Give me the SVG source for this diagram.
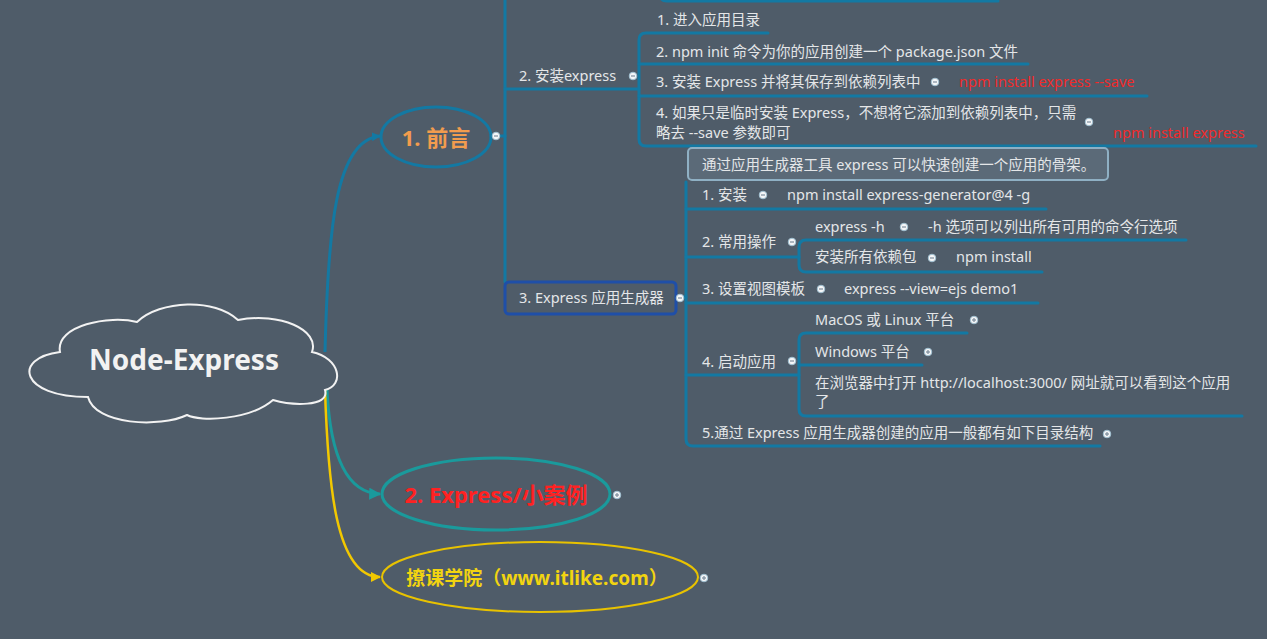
<svg xmlns="http://www.w3.org/2000/svg" width="1267" height="639" viewBox="0 0 1267 639">
<defs>
<style>
.t{font-family:"Noto Sans","Noto Sans CJK SC",sans-serif;font-size:14.5px;fill:#e4e6e8}
.r{font-family:"Noto Sans","Noto Sans CJK SC",sans-serif;font-size:14.5px;fill:#f22a2a}
.ln{fill:none;stroke:#1379a3;stroke-width:3;stroke-linecap:round}
.dot{fill:#f4f6f8;stroke:#9fbfd0;stroke-width:1}
.dm{stroke:#7d8e9c;stroke-width:1.2}
</style>
<marker id="aT" viewBox="0 0 10 10" refX="9" refY="5" markerWidth="4" markerHeight="4" orient="auto"><path d="M0,0 L10,5 L0,10 Z" fill="#1a9a9c"/></marker>
<marker id="aY" viewBox="0 0 10 10" refX="9" refY="5" markerWidth="4" markerHeight="4" orient="auto"><path d="M0,0 L10,5 L0,10 Z" fill="#f2c800"/></marker>
<marker id="aB" viewBox="0 0 10 10" refX="9" refY="5" markerWidth="3" markerHeight="3" orient="auto"><path d="M0,0 L10,5 L0,10 Z" fill="#1379a3"/></marker>
<g id="minus"><circle r="3.8" class="dot"/><line x1="-2" y1="0" x2="2" y2="0" class="dm"/></g>
<g id="plus"><circle r="3.8" class="dot"/><line x1="-2" y1="0" x2="2" y2="0" class="dm"/><line x1="0" y1="-2" x2="0" y2="2" class="dm"/></g>
</defs>
<rect width="1267" height="639" fill="#4f5c69"/>

<g id="connectors">
<path d="M325,352 C328,230 335,140 380,136" fill="none" stroke="#1379a3" stroke-width="3" marker-end="url(#aB)"/>
<path d="M327,390 C330,452 345,493 380,494" fill="none" stroke="#1a9a9c" stroke-width="3" marker-end="url(#aT)"/>
<path d="M325,390 C328,482 335,577 380,577" fill="none" stroke="#f2c800" stroke-width="2.5" marker-end="url(#aY)"/>
<path class="ln" d="M491,136 L505,136"/>
<path class="ln" d="M505,-5 L505,282"/>
<path class="ln" d="M660,-6 Q660,1 667,1 L998,1"/>
<path class="ln" d="M505,89 L639,89"/>
<path class="ln" d="M768,33 L646,33 Q639,33 639,40 L639,139 Q639,146 646,146 L1256,146"/>
<path class="ln" d="M639,64 L1028,64"/>
<path class="ln" d="M639,96 L1147,96"/>
<path class="ln" d="M676,297 L686,297"/>
<path class="ln" d="M686,182 L686,439 Q686,446 693,446 L1100,446"/>
<path class="ln" d="M686,209 L1046,209"/>
<path class="ln" d="M686,257 L799,257"/>
<path class="ln" d="M686,303 L1038,303"/>
<path class="ln" d="M686,375 L799,375"/>
<path class="ln" d="M1186,240 L806,240 Q799,240 799,247 L799,265 Q799,272 806,272 L1042,272"/>
<path class="ln" d="M967,333 L806,333 Q799,333 799,340 L799,409 Q799,416 806,416 L1242,416"/>
<path class="ln" d="M799,365 L922,365"/>
</g>

<g id="root">
<path d="M60,352 C55,325 110,315 137,322 C160,300 215,298 238,320 C280,312 320,330 312,352 C340,358 345,385 325,390 C330,408 290,405 273,400 C250,420 200,422 187,415 C160,428 95,425 88,397 C20,397 12,358 60,352 Z" fill="#4f5c69" stroke="#f2f2f2" stroke-width="2"/>
<text x="184" y="370" text-anchor="middle" style="font-family:'Noto Sans',sans-serif;font-size:28px;font-weight:bold;fill:#f2f2f2">Node-Express</text>
</g>

<g id="n-qianyan">
<ellipse cx="436" cy="137" rx="55" ry="30" fill="none" stroke="#1379a3" stroke-width="3"/>
<text x="436" y="146" text-anchor="middle" style="font-family:'Noto Sans','Noto Sans CJK SC',sans-serif;font-size:22px;font-weight:bold;fill:#f29c4e">1. 前言</text>
<use href="#minus" x="496" y="136"/>
</g>

<g id="n-anzhuang">
<text class="t" x="519" y="81">2. 安装express</text>
<use href="#minus" x="633" y="76"/>
</g>
<g id="n-a1"><text class="t" x="657" y="25">1. 进入应用目录</text></g>
<g id="n-a2"><text class="t" x="656" y="57">2. npm init 命令为你的应用创建一个 package.json 文件</text></g>
<g id="n-a3">
<text class="t" x="656" y="87">3. 安装 Express 并将其保存到依赖列表中</text>
<use href="#minus" x="935" y="82"/>
<text class="r" x="959" y="87">npm install express --save</text>
</g>
<g id="n-a4">
<text class="t" x="656" y="118">4. 如果只是临时安装 Express，不想将它添加到依赖列表中，只需</text>
<text class="t" x="656" y="138">略去 --save 参数即可</text>
<use href="#minus" x="1089" y="122"/>
<text class="r" x="1113" y="138">npm install express</text>
</g>

<g id="n-gen">
<rect x="505" y="282" width="171" height="32" rx="4" fill="none" stroke="#1f4fa8" stroke-width="3"/>
<text class="t" x="519" y="303">3. Express 应用生成器</text>
<use href="#minus" x="680" y="298"/>
</g>
<g id="n-g0">
<rect x="688" y="148" width="420" height="32" rx="4" fill="#5b6a78" stroke="#8fb0c4" stroke-width="2"/>
<text class="t" x="702" y="170">通过应用生成器工具 express 可以快速创建一个应用的骨架。</text>
</g>
<g id="n-g1">
<text class="t" x="702" y="200">1. 安装</text>
<use href="#minus" x="763" y="195"/>
<text class="t" x="787" y="200">npm install express-generator@4 -g</text>
</g>
<g id="n-g2">
<text class="t" x="702" y="247">2. 常用操作</text>
<use href="#minus" x="792" y="242"/>
</g>
<g id="n-g2a">
<text class="t" x="815" y="232">express -h</text>
<use href="#minus" x="904" y="227"/>
<text class="t" x="928" y="232">-h 选项可以列出所有可用的命令行选项</text>
</g>
<g id="n-g2b">
<text class="t" x="815" y="262">安装所有依赖包</text>
<use href="#minus" x="932" y="258"/>
<text class="t" x="956" y="262">npm install</text>
</g>
<g id="n-g3">
<text class="t" x="702" y="294">3. 设置视图模板</text>
<use href="#minus" x="821" y="289"/>
<text class="t" x="844" y="294">express --view=ejs demo1</text>
</g>
<g id="n-g4">
<text class="t" x="702" y="367">4. 启动应用</text>
<use href="#minus" x="792" y="361"/>
</g>
<g id="n-g4a">
<text class="t" x="815" y="325">MacOS 或 Linux 平台</text>
<use href="#plus" x="974" y="320"/>
</g>
<g id="n-g4b">
<text class="t" x="815" y="357">Windows 平台</text>
<use href="#plus" x="928" y="352"/>
</g>
<g id="n-g4c">
<text class="t" x="815" y="388">在浏览器中打开 http://localhost:3000/ 网址就可以看到这个应用</text>
<text class="t" x="815" y="407">了</text>
</g>
<g id="n-g5">
<text class="t" x="702" y="438">5.通过 Express 应用生成器创建的应用一般都有如下目录结构</text>
<use href="#plus" x="1107" y="434"/>
</g>

<g id="n-case">
<ellipse cx="496" cy="494" rx="114" ry="36" fill="none" stroke="#1a9a9c" stroke-width="3"/>
<text x="496" y="503" text-anchor="middle" style="font-family:'Noto Sans','Noto Sans CJK SC',sans-serif;font-size:22px;font-weight:bold;fill:#ff2222">2. Express/小案例</text>
<use href="#plus" x="617" y="495"/>
</g>

<g id="n-itlike">
<ellipse cx="540" cy="577" rx="158" ry="35" fill="none" stroke="#e8c200" stroke-width="2"/>
<text x="537" y="585" text-anchor="middle" style="font-family:'Noto Sans','Noto Sans CJK SC',sans-serif;font-size:19px;font-weight:bold;fill:#f2d410">撩课学院（www.itlike.com）</text>
<use href="#plus" x="704" y="578"/>
</g>
</svg>
